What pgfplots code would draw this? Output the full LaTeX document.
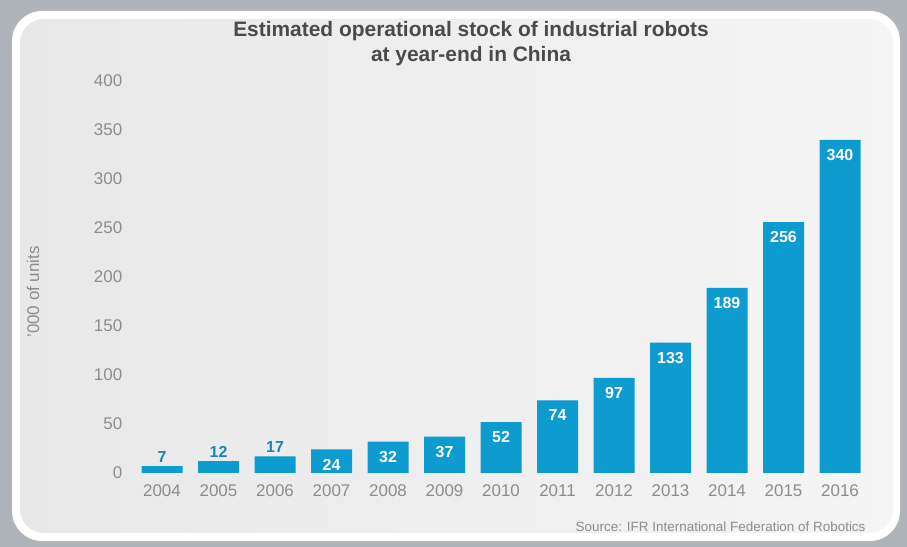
\documentclass[border=0pt]{standalone}
\usepackage{pgfplots}
\pgfplotsset{compat=1.18}
\usepackage{fontspec}
\setmainfont{Liberation Sans}
\definecolor{barblue}{HTML}{0E9BD0}
\definecolor{lblblue}{HTML}{1786B8}
\definecolor{txtgray}{HTML}{8C8C8C}
\definecolor{titlegray}{HTML}{4A4A4A}
\definecolor{framegray}{HTML}{AEB4B9}
\begin{document}
\begin{tikzpicture}[x=1bp,y=1bp]
\fill[framegray] (0,0) rectangle (907,547);
\fill[white, rounded corners=30bp] (12,6) rectangle (900,536);
\shade[left color=black!9, middle color=black!1, right color=black!4, rounded corners=24bp] (20,14) rectangle (893,528);
\node[font=\bfseries\fontsize{21}{25}\selectfont, text=titlegray, align=center] at (471,503) {Estimated operational stock of industrial robots\\at year-end in China};
\node[rotate=90, font=\fontsize{17}{19}\selectfont, text=txtgray] at (33,255) {'000 of units};
\node[anchor=east, font=\fontsize{13.5}{15}\selectfont, text=txtgray] at (869,20) {Source: IFR International Federation of Robotics};
\begin{axis}[
  at={(133.75bp,74bp)}, anchor=south west,
  scale only axis, width=734.5bp, height=392bp,
  xmin=-0.5, xmax=12.5, ymin=0, ymax=400,
  ytick={0,50,...,400},
  xtick={0,...,12},
  xticklabels={2004,2005,2006,2007,2008,2009,2010,2011,2012,2013,2014,2015,2016},
  axis line style={draw=none}, major tick length=0pt, tick style={draw=none},
  /pgf/number format/assume math mode=true,
  ticklabel style={font=\fontsize{17}{19}\selectfont, text=txtgray},
  yticklabel style={xshift=-8bp},
  xticklabel style={yshift=-8bp},
  clip=false,
]
\addplot[ybar, bar width=41bp, bar shift=0pt, fill=barblue, draw=none,
  nodes near coords,
  nodes near coords style={font=\bfseries\fontsize{16}{18}\selectfont, text=lblblue, anchor=south, yshift=0bp}]
  coordinates {(0,7) (1,12) (2,17)};
\addplot[ybar, bar width=41bp, bar shift=0pt, fill=barblue, draw=none,
  nodes near coords,
  nodes near coords style={font=\bfseries\fontsize{16}{18}\selectfont, text=white, anchor=north, yshift=-6bp}]
  coordinates {(3,24) (4,32) (5,37) (6,52) (7,74) (8,97) (9,133) (10,189) (11,256) (12,340)};
\end{axis}
\end{tikzpicture}
\end{document}
